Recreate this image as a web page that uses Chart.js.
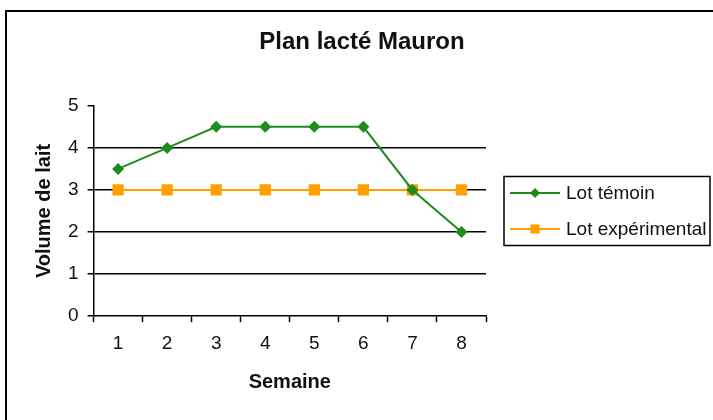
<!DOCTYPE html>
<html>
<head>
<meta charset="utf-8">
<script src="https://cdn.jsdelivr.net/npm/chart.js@4/dist/chart.umd.min.js"></script>
<style>
html, body { margin: 0; padding: 0; background: #ffffff; }
#wrap { width: 713px; height: 420px; position: relative; }
</style>
</head>
<body>
<div id="wrap"><canvas id="c" width="713" height="420"></canvas></div>
<script>
// ---- data ----
const weeks = ['1', '2', '3', '4', '5', '6', '7', '8'];
const lotTemoin = [3.5, 4, 4.5, 4.5, 4.5, 4.5, 3, 2];
const lotExperimental = [3, 3, 3, 3, 3, 3, 3, 3];
const seriesNames = ['Lot témoin', 'Lot expérimental'];
const yMin = 0;
const yMax = 5;
const yStep = 1;
const chartTitle = 'Plan lacté Mauron';
const xAxisTitle = 'Semaine';
const yAxisTitle = 'Volume de lait';

// ---- styles ----
const GREEN = '#1f8a1f';
const ORANGE = '#ff9f00';
const TEXT = '#111111';
const FONT = 'Arial, "Liberation Sans", sans-serif';

Chart.defaults.font.family = FONT;
Chart.defaults.color = TEXT;

// Right-side legend box (Excel-like framed legend), added as a layout box
const LEGEND_W = 227;
function makeLegendBox(chart) {
  return {
    id: 'excelLegend',
    position: 'right',
    weight: 0,
    fullSize: false,
    options: {},
    left: 0, top: 0, right: 0, bottom: 0, width: 0, height: 0,
    isHorizontal() { return false; },
    update(maxWidth, maxHeight) {
      this.width = LEGEND_W;
      this.height = maxHeight;
    },
    draw() {
      const ctx = chart.ctx;
      const area = chart.chartArea;
      const cy = (area.top + area.bottom) / 2;
      const bx = this.left + 18;
      const bw = 206;
      const bh = 69;
      const by = cy - bh / 2;
      ctx.save();
      ctx.strokeStyle = '#000';
      ctx.lineWidth = 1.5;
      ctx.strokeRect(bx, by, bw, bh);
      const ds = chart.data.datasets;
      const gap = 36;
      const y0 = cy - gap / 2 * (ds.length - 1);
      ds.forEach((d, i) => {
        const y = y0 + i * gap;
        ctx.strokeStyle = d.borderColor;
        ctx.lineWidth = d.borderWidth;
        ctx.beginPath();
        ctx.moveTo(bx + 6, y);
        ctx.lineTo(bx + 56, y);
        ctx.stroke();
        ctx.fillStyle = d.pointBackgroundColor;
        ctx.strokeStyle = d.pointBorderColor;
        Chart.helpers.drawPoint(ctx, {
          pointStyle: d.pointStyle,
          radius: d.pointStyle === 'rect' ? 6.5 : 5,
          rotation: 0,
          borderWidth: 0
        }, bx + 31, y);
        ctx.fillStyle = TEXT;
        ctx.font = '19px ' + FONT;
        ctx.textAlign = 'left';
        ctx.textBaseline = 'middle';
        ctx.fillText(d.label, bx + 62, y + 1);
      });
      ctx.restore();
    }
  };
}

const legendPlugin = {
  id: 'excelLegendPlugin',
  beforeInit(chart) {
    const box = makeLegendBox(chart);
    if (Chart.layouts && Chart.layouts.addBox) {
      Chart.layouts.addBox(chart, box);
    } else {
      box._layers = () => [{ z: 0, draw: () => box.draw() }];
      chart.boxes.push(box);
    }
  }
};

const framePlugin = {
  id: 'frame',
  beforeDraw(chart) {
    const ctx = chart.ctx;
    ctx.save();
    ctx.fillStyle = '#fff';
    ctx.fillRect(0, 0, chart.width, chart.height);
    ctx.strokeStyle = '#000';
    ctx.lineWidth = 2;
    ctx.strokeRect(6, 11, chart.width + 20, chart.height + 20);
    ctx.restore();
  }
};

new Chart(document.getElementById('c'), {
  type: 'line',
  data: {
    labels: weeks,
    datasets: [
      {
        label: seriesNames[0],
        data: lotTemoin,
        borderColor: GREEN,
        backgroundColor: GREEN,
        pointBackgroundColor: GREEN,
        pointBorderColor: GREEN,
        borderWidth: 2,
        pointStyle: 'rectRot',
        pointRadius: 6,
        pointBorderWidth: 0,
        tension: 0,
        fill: false
      },
      {
        label: seriesNames[1],
        data: lotExperimental,
        borderColor: ORANGE,
        backgroundColor: ORANGE,
        pointBackgroundColor: ORANGE,
        pointBorderColor: ORANGE,
        borderWidth: 2,
        pointStyle: 'rect',
        pointRadius: 8,
        pointBorderWidth: 0,
        tension: 0,
        fill: false
      }
    ]
  },
  options: {
    responsive: false,
    animation: false,
    devicePixelRatio: 1,
    layout: { padding: { left: 11, right: 0, top: 12, bottom: 26 } },
    plugins: {
      legend: { display: false },
      tooltip: { enabled: false },
      title: {
        display: true,
        text: chartTitle,
        color: TEXT,
        font: { size: 24, weight: 'bold', family: FONT },
        padding: { top: 16, bottom: 49 }
      }
    },
    scales: {
      x: {
        type: 'category',
        offset: true,
        grid: {
          offset: true,
          drawOnChartArea: false,
          drawTicks: true,
          tickLength: 6,
          tickColor: '#000',
          tickWidth: 1.5
        },
        border: { display: true, color: '#000', width: 1.5 },
        ticks: { color: TEXT, font: { size: 19 }, padding: 10, maxRotation: 0 },
        title: {
          display: true,
          text: xAxisTitle,
          color: TEXT,
          font: { size: 20, weight: 'bold' },
          padding: { top: 5, bottom: 0 }
        }
      },
      y: {
        min: yMin,
        max: yMax,
        ticks: { stepSize: yStep, color: TEXT, font: { size: 19 }, padding: 9 },
        grid: {
          color: (c) => (c.tick && c.tick.value > yMin && c.tick.value < yMax) ? '#000' : 'rgba(0,0,0,0)',
          lineWidth: 1.5,
          drawTicks: true,
          tickLength: 6,
          tickColor: '#000',
          tickWidth: 1.5
        },
        border: { display: true, color: '#000', width: 1.5 },
        title: {
          display: true,
          text: yAxisTitle,
          color: TEXT,
          font: { size: 20, weight: 'bold' },
          padding: { top: 21, bottom: 3 }
        }
      }
    }
  },
  plugins: [framePlugin, legendPlugin]
});
</script>
</body>
</html>
